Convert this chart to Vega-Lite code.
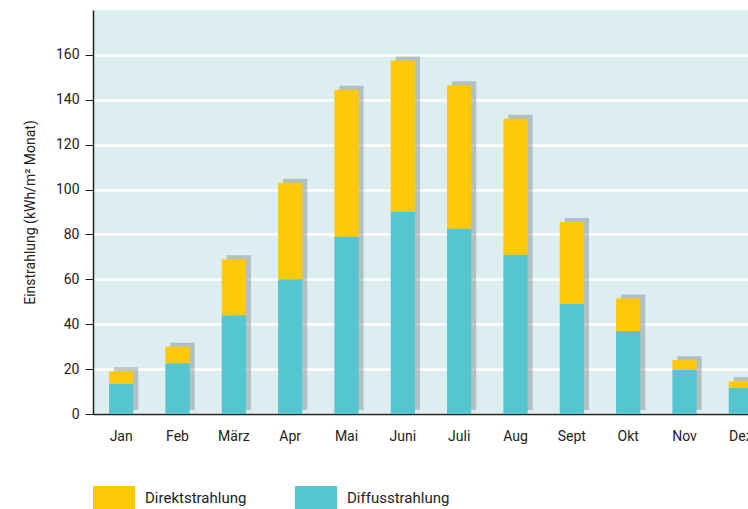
{
  "$schema": "https://vega.github.io/schema/vega-lite/v6.json",
  "autosize": "none",
  "padding": {"left": 93, "top": 10, "right": 0, "bottom": 95},
  "width": 676,
  "height": 404,
  "background": "white",
  "config": {
    "view": {"fill": "#DDEEF1", "stroke": null},
    "font": "Roboto",
    "axis": {"labelFont": "Roboto", "titleFont": "Roboto", "labelColor": "#222", "titleColor": "#222"},
    "legend": {"labelFont": "Roboto"}
  },
  "data": {
    "values": [
      {"monat": "Jan", "typ": "Diffusstrahlung", "wert": 13.5, "gesamt": 19},
      {"monat": "Jan", "typ": "Direktstrahlung", "wert": 5.5, "gesamt": 19},
      {"monat": "Feb", "typ": "Diffusstrahlung", "wert": 22.6, "gesamt": 30},
      {"monat": "Feb", "typ": "Direktstrahlung", "wert": 7.4, "gesamt": 30},
      {"monat": "März", "typ": "Diffusstrahlung", "wert": 44, "gesamt": 69},
      {"monat": "März", "typ": "Direktstrahlung", "wert": 25, "gesamt": 69},
      {"monat": "Apr", "typ": "Diffusstrahlung", "wert": 60, "gesamt": 103},
      {"monat": "Apr", "typ": "Direktstrahlung", "wert": 43, "gesamt": 103},
      {"monat": "Mai", "typ": "Diffusstrahlung", "wert": 79, "gesamt": 144.5},
      {"monat": "Mai", "typ": "Direktstrahlung", "wert": 65.5, "gesamt": 144.5},
      {"monat": "Juni", "typ": "Diffusstrahlung", "wert": 90, "gesamt": 157.5},
      {"monat": "Juni", "typ": "Direktstrahlung", "wert": 67.5, "gesamt": 157.5},
      {"monat": "Juli", "typ": "Diffusstrahlung", "wert": 82.5, "gesamt": 146.5},
      {"monat": "Juli", "typ": "Direktstrahlung", "wert": 64, "gesamt": 146.5},
      {"monat": "Aug", "typ": "Diffusstrahlung", "wert": 71, "gesamt": 131.5},
      {"monat": "Aug", "typ": "Direktstrahlung", "wert": 60.5, "gesamt": 131.5},
      {"monat": "Sept", "typ": "Diffusstrahlung", "wert": 49, "gesamt": 85.5},
      {"monat": "Sept", "typ": "Direktstrahlung", "wert": 36.5, "gesamt": 85.5},
      {"monat": "Okt", "typ": "Diffusstrahlung", "wert": 37, "gesamt": 51.5},
      {"monat": "Okt", "typ": "Direktstrahlung", "wert": 14.5, "gesamt": 51.5},
      {"monat": "Nov", "typ": "Diffusstrahlung", "wert": 19.6, "gesamt": 24},
      {"monat": "Nov", "typ": "Direktstrahlung", "wert": 4.4, "gesamt": 24},
      {"monat": "Dez", "typ": "Diffusstrahlung", "wert": 11.7, "gesamt": 14.6},
      {"monat": "Dez", "typ": "Direktstrahlung", "wert": 2.9, "gesamt": 14.6}
    ]
  },
  "encoding": {
    "x": {
      "field": "monat", "type": "nominal",
      "sort": ["Jan","Feb","März","Apr","Mai","Juni","Juli","Aug","Sept","Okt","Nov","Dez"],
      "scale": {"paddingInner": 0.57, "paddingOuter": 0.285},
      "axis": {"title": null, "labelAngle": 0, "ticks": false, "labelPadding": 15, "labelFontSize": 14, "domainColor": "#222", "domainWidth": 1.5, "grid": false}
    }
  },
  "layer": [
    {
      "transform": [{"filter": "datum.typ === 'Diffusstrahlung'"}],
      "mark": {"type": "bar", "color": "#7d878c", "opacity": 0.45, "xOffset": 5, "yOffset": -4},
      "encoding": {
        "y": {"field": "gesamt", "type": "quantitative", "scale": {"domain": [0, 180]},
          "axis": {
            "title": "Einstrahlung (kWh/m² Monat)", "titleFontSize": 14, "titleFontWeight": "normal", "titlePadding": 18,
            "values": [0,20,40,60,80,100,120,140,160],
            "labelFontSize": 14, "labelPadding": 6,
            "tickColor": "#222", "tickSize": 8,
            "domainColor": "#222", "domainWidth": 1.5,
            "gridColor": "white", "gridWidth": 2.5
          }
        }
      }
    },
    {
      "mark": {"type": "bar"},
      "encoding": {
        "y": {"field": "wert", "type": "quantitative", "stack": "zero"},
        "order": {"field": "typ", "sort": "ascending"},
        "color": {
          "field": "typ", "type": "nominal",
          "scale": {"domain": ["Direktstrahlung", "Diffusstrahlung"], "range": ["#FFC90A", "#55C5CF"]},
          "legend": {
            "title": null, "orient": "none", "direction": "horizontal", "columns": 2,
            "legendX": 9, "legendY": 476,
            "symbolType": "M-1.75,-1H1.75V1H-1.75Z", "symbolSize": 576,
            "symbolStrokeWidth": 0, "symbolOpacity": 1,
            "labelFontSize": 15, "labelOffset": 19, "labelColor": "#222",
            "columnPadding": 48
          }
        }
      }
    }
  ]
}
